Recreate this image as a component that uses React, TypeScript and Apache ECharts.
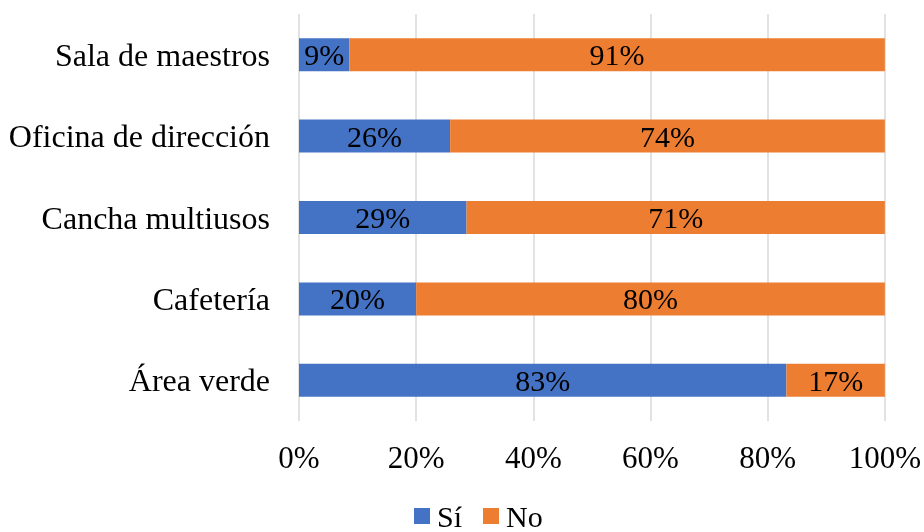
import React, { useEffect, useRef } from "react";
import * as echarts from "echarts";

const categories = ["Área verde", "Cafetería", "Cancha multiusos", "Oficina de dirección", "Sala de maestros"];
const siValues = [83.2, 20.0, 28.6, 25.8, 8.6];
const noValues = [16.8, 80.0, 71.4, 74.2, 91.4];
const xTicks = [0, 20, 40, 60, 80, 100];

const FONT = "'Liberation Serif', 'Times New Roman', serif";

export default function App() {
  const ref = useRef<HTMLDivElement>(null);
  useEffect(() => {
    if (!ref.current) return;
    const chart = echarts.init(ref.current, undefined, { renderer: "svg" });
    const label = {
      show: true,
      position: "inside",
      color: "#000",
      fontFamily: FONT,
      fontSize: 30,
      formatter: (p: any) => Math.round(p.value) + "%",
    };
    chart.setOption({
      animation: false,
      textStyle: { fontFamily: FONT },
      grid: { left: 299, right: 38, top: 14, bottom: 111, containLabel: false },
      legend: {
        top: 501,
        left: 414,
        padding: 0,
        itemWidth: 16,
        itemHeight: 16,
        itemGap: 21,
        icon: "rect",
        textStyle: { fontFamily: FONT, fontSize: 30, color: "#000", padding: [0, 0, 0, 2] },
        data: ["Sí", "No"],
      },
      xAxis: {
        type: "value",
        min: xTicks[0],
        max: xTicks[xTicks.length - 1],
        interval: 20,
        axisLine: { show: false },
        axisTick: { show: false },
        splitLine: { lineStyle: { color: "#d9d9d9", width: 1.5 } },
        axisLabel: {
          fontFamily: FONT,
          fontSize: 31,
          color: "#000",
          margin: 21,
          formatter: (v: number) => v + "%",
        },
      },
      yAxis: {
        type: "category",
        data: categories,
        axisLine: { show: false },
        axisTick: { show: false },
        splitLine: { show: false },
        axisLabel: { fontFamily: FONT, fontSize: 32, color: "#000", margin: 29 },
      },
      series: [
        {
          name: "Sí",
          type: "bar",
          stack: "total",
          data: siValues,
          barWidth: 33,
          itemStyle: { color: "#4472C4" },
          label,
        },
        {
          name: "No",
          type: "bar",
          stack: "total",
          data: noValues,
          barWidth: 33,
          itemStyle: { color: "#ED7D31" },
          label,
        },
      ],
    });
    return () => chart.dispose();
  }, []);
  return (
    <div
      ref={ref}
      style={{ position: "fixed", left: 0, top: 0, width: 924, height: 532 }}
    />
  );
}
